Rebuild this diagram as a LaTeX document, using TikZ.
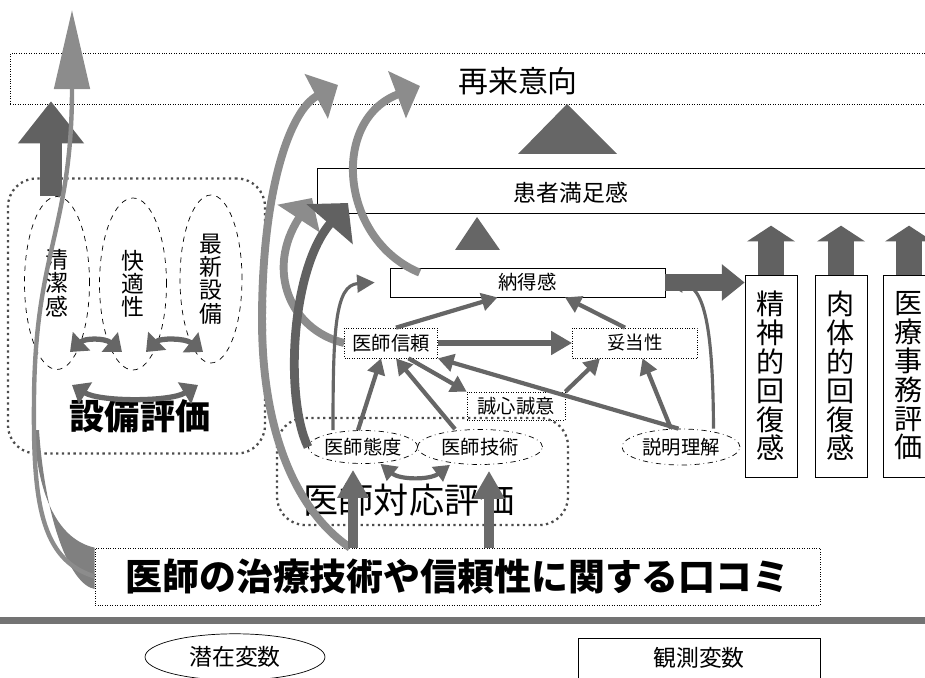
\documentclass[tikz,border=0pt]{standalone}
\usepackage{fontspec}
\setmainfont{Noto Sans CJK JP}
\usepackage{tikz}
\usetikzlibrary{arrows.meta,shapes.geometric,positioning}
\tikzset{
  observed/.style={draw,rectangle,inner sep=0pt,font=\fontsize{11}{12}\selectfont},
  latent/.style={draw,ellipse,inner sep=0pt,dash dot,font=\fontsize{11}{12}\selectfont},
  facet/.style={draw,ellipse,inner sep=0pt,dashed,align=center,font=\fontsize{13}{13.2}\selectfont},
  vertical/.style={observed,minimum width=1.04cm,minimum height=4.04cm,align=center,
    font=\fontsize{16}{16.4}\selectfont},
  region/.style={draw=black!70,rectangle,rounded corners=16pt,dotted,line width=1.3pt},
  flow/.style={draw=black!60,line width=2.4pt,-{Triangle[width=10pt,length=9pt]}},
  thinflow/.style={draw=black!60,line width=1.8pt,-{Triangle[width=10pt,length=10pt]}},
  pairflow/.style={draw=black!60,line width=3pt,
    {Triangle[width=14pt,length=9pt]}-{Triangle[width=14pt,length=9pt]}},
  bigflow/.style={draw=black!45,line width=4.5pt,-{Triangle[width=28pt,length=14pt]}},
  darkflow/.style={draw=black!62,line width=5pt,-{Triangle[width=34pt,length=16pt]}},
  kickup/.style={draw=black!58,line width=6pt,-{Triangle[width=17pt,length=16pt]}},
  blockup/.style={draw=black!62,line width=15pt,-{Triangle[width=27pt,length=9pt]}},
  blockright/.style={draw=black!62,line width=10pt,-{Triangle[width=20pt,length=13pt]}}
}

\begin{document}
\begin{tikzpicture}[x=0.02cm,y=-0.02cm]
  \useasboundingbox (0,0) rectangle (925,678);
  \clip (0,0) rectangle (925,678);

  % outcome boxes
  \node[observed,densely dotted,minimum width=18.6cm,minimum height=1.02cm,anchor=north west] (revisit) at (10,53) {};
  \node[font=\fontsize{17}{18}\selectfont] (revisittext) at (518,81) {再来意向};
  \fill[black!60] (518,154) -- (567,104) -- (617,154) -- cycle;
  \node[observed,minimum width=12.4cm,minimum height=0.9cm,anchor=north west] (sat) at (317,168) {};
  \node[font=\fontsize{13}{14}\selectfont] (sattext) at (571,193) {患者満足感};
  \fill[black!60] (455,250) -- (477,217) -- (500,250) -- cycle;
  \node[observed,minimum width=5.5cm,minimum height=0.58cm] (nattoku) at (527.5,282.5) {納得感};

  \node[observed,densely dotted,minimum width=1.86cm,minimum height=0.6cm] (trust) at (391,343) {医師信頼};
  \node[observed,densely dotted,minimum width=2.5cm,minimum height=0.6cm,font=\fontsize{10.5}{12}\selectfont] (valid) at (635,343) {妥当性};
  \node[observed,densely dotted,minimum width=1.96cm,minimum height=0.56cm] (sincere) at (516,406) {誠心誠意};

  % doctor evaluation
  \node[region,minimum width=5.82cm,minimum height=2.14cm] (doctor) at (422.5,471.5) {};
  \node[font=\fontsize{20}{22}\selectfont] (doctortext) at (409,500) {医師対応評価};
  \node[latent,minimum width=2.14cm,minimum height=0.66cm] (attitude) at (363,447) {医師態度};
  \node[latent,minimum width=2.5cm,minimum height=0.7cm] (skill) at (480,447) {医師技術};
  \node[latent,minimum width=2.36cm,minimum height=0.72cm] (explain) at (681,447) {説明理解};

  % facility evaluation
  \node[region,minimum width=5.14cm,minimum height=5.5cm] (facility) at (136.5,316) {};
  \node[font=\bfseries\fontsize{20}{22}\selectfont] (facilitytext) at (140,416) {設備評価};
  \node[facet,minimum width=1.3cm,minimum height=3.46cm] (clean) at (57,283) {清\\潔\\感};
  \node[facet,minimum width=1.34cm,minimum height=3.44cm] (comfort) at (133,284) {快\\適\\性};
  \node[facet,minimum width=1.24cm,minimum height=3.36cm] (latest) at (211,279) {最\\新\\設\\備};

  \node[vertical] (mental) at (771,376) {精\\神\\的\\回\\復\\感};
  \node[vertical] (physical) at (841,376) {肉\\体\\的\\回\\復\\感};
  \node[vertical] (office) at (909,376) {医\\療\\事\\務\\評\\価};

  \node[observed,densely dotted,minimum width=14.5cm,minimum height=1.14cm,
    font=\bfseries\fontsize{21}{23}\selectfont] (kuchikomi) at (457.5,576.5) {医師の治療技術や信頼性に関する口コミ};

  % legend
  \fill[black!55] (0,617) rectangle (925,624);
  \node[draw,ellipse,minimum width=3.6cm,minimum height=0.84cm,font=\fontsize{13}{14}\selectfont] (latentkey) at (235,657) {潜在変数};
  \node[observed,minimum width=4.84cm,minimum height=0.8cm,font=\fontsize{13}{14}\selectfont] (observedkey) at (699,658) {観測変数};

  % arrows
  \draw[pairflow] (70,352) .. controls (85,338) and (105,338) .. (122,352);
  \draw[pairflow] (146,352) .. controls (160,338) and (185,338) .. (203,352);
  \draw[pairflow] (72,385) .. controls (100,402) and (170,402) .. (198,385);
  \draw[blockup,line width=13pt,-{Triangle[width=36pt,length=24pt]}] ([xshift=-0.12cm]clean.north) -- ++(0,-95);
  \fill[black!50] (kuchikomi.north west) .. controls (60,540) and (38,500) .. (34,430)
    -- (39,430) .. controls (45,520) and (70,585) .. ([yshift=-0.25cm]kuchikomi.west);
  \draw[bigflow,line width=2.5pt,-{Triangle[width=20pt,length=45pt]}] (kuchikomi.west)
    .. controls (40,560) and (33,500) .. (34,400) .. controls (35,250) and (72,230) .. (72,10);

  \draw[bigflow] ([xshift=-2.15cm]kuchikomi.north) .. controls (295,510) and (262,430) .. (262,320)
    .. controls (262,190) and (290,110) .. (338,85);
  \draw[bigflow] ([shift={(0.6cm,-0.1cm)}]nattoku.north west) .. controls (340,240) and (330,120) .. (420,86);
  \draw[bigflow] (trust.west) .. controls (290,330) and (265,270) .. (312,198);
  \draw[darkflow] (attitude.west) .. controls (285,400) and (290,270) .. (348,203);

  \draw[thinflow] ([xshift=-0.6cm]attitude.north) .. controls (333,330) and (335,285) .. ([xshift=-0.3cm]nattoku.west);
  \draw[thinflow] ([xshift=0.65cm]explain.north) .. controls (713,330) and (705,285) .. (nattoku.east);
  \draw[blockright] (nattoku.east) -- (mental.west |- nattoku.east);
  \draw[blockup] (mental.north) -- ++(0,-49);
  \draw[blockup] (physical.north) -- ++(0,-49);
  \draw[blockup] (office.north) -- ++(0,-49);

  \draw[flow] ([xshift=0.1cm]trust.north) -- ([xshift=-0.6cm]nattoku.south);
  \draw[flow] ([xshift=-0.2cm]valid.north) -- ([xshift=0.75cm]nattoku.south);
  \draw[flow,line width=3.5pt,-{Triangle[width=13pt,length=12pt]}] (trust.east) -- (valid.west);
  \draw[flow] ([xshift=0.35cm]trust.south) -- (sincere.north west);
  \draw[flow] (sincere.north east) -- ([xshift=-0.7cm]valid.south);
  \draw[flow] ([xshift=-0.05cm]explain.north) -- (trust.south east);
  \draw[flow] ([xshift=-0.2cm]explain.north) -- ([xshift=0.15cm]valid.south);
  \draw[flow] ([xshift=-0.1cm]attitude.north) -- ([xshift=-0.2cm]trust.south);
  \draw[flow] ([xshift=-0.5cm]skill.north) -- ([xshift=0.1cm]trust.south);
  \draw[flow,{Triangle[width=10pt,length=9pt]}-{Triangle[width=10pt,length=9pt]}] ([xshift=0.35cm]attitude.south)
    .. controls (400,480) and (430,480) .. ([xshift=-0.6cm]skill.south);
  \draw[kickup] ([xshift=-0.2cm]attitude.south |- kuchikomi.north) -- ([shift={(-0.2cm,-0.12cm)}]attitude.south);
  \draw[kickup] ([xshift=0.18cm]skill.south |- kuchikomi.north) -- ([shift={(0.18cm,-0.12cm)}]skill.south);
\end{tikzpicture}
\end{document}
